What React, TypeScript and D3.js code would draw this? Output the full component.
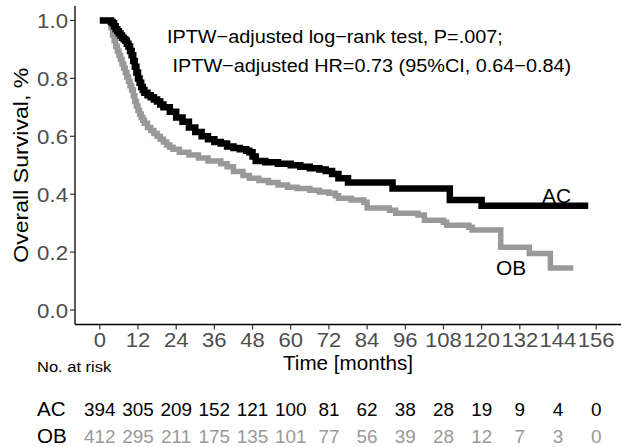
import React from 'react';
import * as d3 from 'd3';

// survival curves (months, survival)
const acTime = [0, 3, 3.5, 4, 4.5, 5, 5.5, 6, 6.5, 7, 7.5, 8, 8.5, 9, 9.5, 10, 10.5, 11, 11.5, 12, 12.5, 13, 13.5, 14, 15, 16, 17, 18, 19, 20, 22, 24, 26, 28, 30, 32, 34, 36, 38, 40, 42, 44, 46, 47, 48, 49, 52, 56, 60, 63, 66, 69, 71, 73, 75, 78, 92, 110, 120, 153.5];
const acSurv = [1, 1, 0.995, 0.99, 0.98, 0.97, 0.963, 0.955, 0.948, 0.94, 0.935, 0.93, 0.92, 0.91, 0.895, 0.88, 0.86, 0.84, 0.82, 0.8, 0.785, 0.77, 0.76, 0.75, 0.742, 0.735, 0.727, 0.72, 0.71, 0.7, 0.685, 0.665, 0.65, 0.63, 0.615, 0.6, 0.59, 0.58, 0.575, 0.565, 0.56, 0.555, 0.55, 0.545, 0.53, 0.515, 0.51, 0.505, 0.5, 0.495, 0.49, 0.485, 0.48, 0.47, 0.455, 0.44, 0.42, 0.38, 0.36, 0.36];

const obTime = [0, 3, 3.5, 4, 4.5, 5, 5.5, 6, 6.5, 7, 7.5, 8, 8.5, 9, 9.5, 10, 10.5, 11, 11.5, 12, 12.5, 13, 13.5, 14, 15, 16, 17, 18, 19, 20, 21, 22, 23, 25, 28, 31, 34, 38, 40, 42, 45, 47, 50, 53, 56, 59, 62, 66, 69, 72, 74, 75, 79, 83, 84, 91, 93, 100, 102, 108, 109, 116, 117, 126, 135, 141.6, 148.8];
const obSurv = [1, 1, 0.975, 0.95, 0.93, 0.91, 0.895, 0.88, 0.865, 0.85, 0.835, 0.82, 0.805, 0.79, 0.775, 0.76, 0.74, 0.72, 0.705, 0.69, 0.677, 0.665, 0.655, 0.645, 0.63, 0.62, 0.61, 0.6, 0.59, 0.58, 0.57, 0.562, 0.555, 0.545, 0.535, 0.525, 0.515, 0.505, 0.495, 0.478, 0.465, 0.455, 0.447, 0.44, 0.432, 0.424, 0.42, 0.414, 0.408, 0.403, 0.395, 0.386, 0.38, 0.372, 0.352, 0.345, 0.334, 0.328, 0.31, 0.303, 0.293, 0.286, 0.276, 0.217, 0.195, 0.145, 0.145];

const xTicks = [0, 12, 24, 36, 48, 60, 72, 84, 96, 108, 120, 132, 144, 156];
const yTicks = [0, 0.2, 0.4, 0.6, 0.8, 1.0];
const acRisk = [394, 305, 209, 152, 121, 100, 81, 62, 38, 28, 19, 9, 4, 0];
const obRisk = [412, 295, 211, 175, 135, 101, 77, 56, 39, 28, 12, 7, 3, 0];

const font = '"Liberation Sans", Arial, sans-serif';
const obGrey = '#999999';

// text slightly stretched along its reading direction, like the original export
function T({ x, y, size, children, anchor = 'start', sx = 1.08, fill = '#000', rotate = 0, preserve = false }: any) {
  return (
    <text
      transform={`translate(${x},${y}) rotate(${rotate}) scale(${sx},1)`}
      fontSize={size}
      textAnchor={anchor}
      fill={fill}
      xmlSpace={preserve ? 'preserve' : undefined}
    >
      {children}
    </text>
  );
}

export default function App() {
  const width = 622;
  const height = 447;
  const left = 75, right = 621, top = 6, bottom = 324.5;

  const x = d3.scaleLinear().domain([-7.8, 163.8]).range([left, right]);
  const y = d3.scaleLinear().domain([-0.05, 1.05]).range([bottom, top]);

  const path = (times: number[], surv: number[]) =>
    d3.line<number>()
      .x(t => x(t))
      .y((_, i) => y(surv[i]))
      .curve(d3.curveStepAfter)(times) || '';

  return (
    <svg width={width} height={height} style={{ position: 'absolute', left: 0, top: 0, background: '#fff' }} fontFamily={font}>
      <rect width={width} height={height} fill="#fff" />

      {/* curves */}
      <path d={path(obTime, obSurv)} fill="none" stroke={obGrey} strokeWidth={5.5} />
      <path d={path(acTime, acSurv)} fill="none" stroke="#000" strokeWidth={6.5} />

      {/* axes */}
      <line x1={left} x2={left} y1={top} y2={bottom} stroke="#000" strokeWidth={1.3} />
      <line x1={left} x2={right} y1={bottom} y2={bottom} stroke="#000" strokeWidth={1.3} />

      {yTicks.map(t => (
        <g key={'y' + t}>
          <line x1={left - 5} x2={left} y1={y(t)} y2={y(t)} stroke="#333" strokeWidth={1.2} />
          <T x={left - 7} y={y(t) + 7.5} size={21} anchor="end" sx={1.06} fill="#4d4d4d">{t.toFixed(1)}</T>
        </g>
      ))}
      {xTicks.map(t => (
        <g key={'x' + t}>
          <line x1={x(t)} x2={x(t)} y1={bottom} y2={bottom + 5} stroke="#333" strokeWidth={1.2} />
          <T x={x(t)} y={347} size={21} anchor="middle" sx={1.05} fill="#4d4d4d">{t}</T>
        </g>
      ))}

      <T x={28} y={(top + bottom) / 2} size={21} anchor="middle" sx={1.1} rotate={-90}>Overall Survival, %</T>
      <T x={(left + right) / 2} y={370} size={19.5} anchor="middle" sx={1.06}>Time [months]</T>

      {/* annotation */}
      <T x={167} y={43} size={18.3} sx={1.085}>IPTW−adjusted log−rank test, P=.007;</T>
      <T x={167} y={72} size={18.3} sx={1.085} preserve> IPTW−adjusted HR=0.73 (95%CI, 0.64−0.84)</T>

      <T x={542} y={203} size={20.5} sx={1.02}>AC</T>
      <T x={496} y={275} size={20.5} sx={1.02}>OB</T>

      {/* risk table */}
      <T x={37} y={372} size={15} sx={1.1}>No. at risk</T>
      <T x={37} y={416} size={20} sx={1.03}>AC</T>
      <T x={37} y={443} size={20} sx={1.03}>OB</T>
      {xTicks.map((t, i) => (
        <T key={'ra' + t} x={x(t)} y={416} size={17.5} anchor="middle" sx={1.08}>{acRisk[i]}</T>
      ))}
      {xTicks.map((t, i) => (
        <T key={'rb' + t} x={x(t)} y={443} size={17.5} anchor="middle" sx={1.08} fill={obGrey}>{obRisk[i]}</T>
      ))}
    </svg>
  );
}
